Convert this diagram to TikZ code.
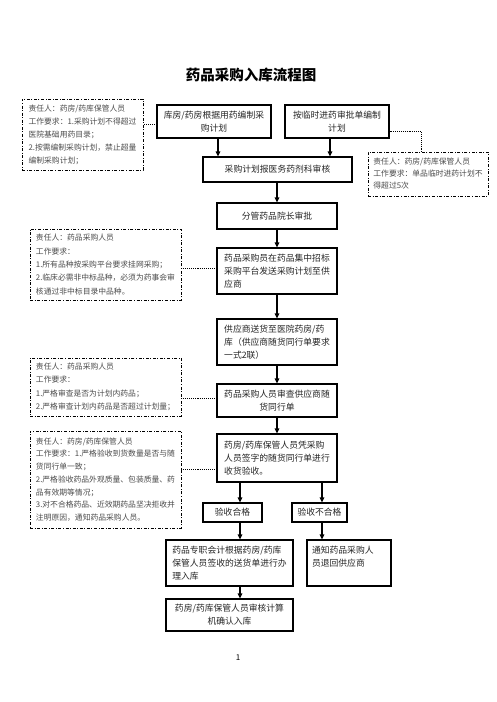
\documentclass[tikz,border=0pt]{standalone}
\usepackage{fontspec}
\setmainfont{Noto Sans CJK SC}
\usetikzlibrary{arrows.meta,calc}
\tikzset{
  mainbox/.style={draw, line width=1.1pt, inner xsep=3pt, inner ysep=1pt, font=\fontsize{8.8}{13}\selectfont, text=black!85},
  notebox/.style={draw, line width=0.9pt, dash pattern=on 3pt off 1.6pt on 0.9pt off 1.6pt, inner sep=1pt, align=left, text=black!70, font=\fontsize{7.8}{13}\selectfont},
  arr/.style={line width=1.4pt, -{Triangle[length=5pt,width=4.5pt]}},
  dotline/.style={line width=0.9pt, densely dotted}
}
\begin{document}
\begin{tikzpicture}[x=1pt,y=-1pt]
\fill[white] (0,0) rectangle (496,702);
\useasboundingbox (0,0) rectangle (496,702);

\node[font=\fontsize{14.5}{16}\selectfont\bfseries] (title) at (251,75) {药品采购入库流程图};

% main column
\node[mainbox, align=center, minimum width=114pt, minimum height=33pt] (A) at (214,121.5) {库房/药房根据用药编制采\\购计划};
\node[mainbox, align=center, minimum width=104pt, minimum height=33pt] (B) at (337,121.5) {按临时进药审批单编制\\计划};
\node[mainbox, align=center, minimum width=149pt, minimum height=25pt] (C) at (277.5,169.5) {采购计划报医务药剂科审核};
\node[mainbox, align=center, minimum width=120pt, minimum height=26pt] (D) at (277,216) {分管药品院长审批};
\node[mainbox, align=left, minimum width=120pt, minimum height=46pt] (E) at (277,271) {药品采购员在药品集中招标\\采购平台发送采购计划至供\\应商};
\node[mainbox, align=left, minimum width=120pt, minimum height=46pt] (F) at (277,342) {供应商送货至医院药房/药\\库（供应商随货同行单要求\\一式2联）};
\node[mainbox, align=center, minimum width=120pt, minimum height=33pt] (G) at (277,400.5) {药品采购人员审查供应商随\\货同行单};
\node[mainbox, align=left, minimum width=120pt, minimum height=48pt] (H) at (277,458) {药房/药库保管人员凭采购\\人员签字的随货同行单进行\\收货验收。};
\node[mainbox, align=center, minimum width=59pt, minimum height=19pt] (ok) at (232.5,512.5) {验收合格};
\node[mainbox, align=center, minimum width=55pt, minimum height=19pt] (ng) at (319.5,512.5) {验收不合格};
\node[mainbox, align=left, minimum width=127pt, minimum height=46pt] (I) at (229.5,563) {药品专职会计根据药房/药库\\保管人员签收的送货单进行办\\理入库};
\node[mainbox, align=left, minimum width=84pt, minimum height=46pt, text width=74pt] (J) at (349,563) {通知药品采购人\\员退回供应商\\\mbox{}};
\node[mainbox, align=center, minimum width=127pt, minimum height=32pt] (K) at (229.5,615) {药房/药库保管人员审核计算\\机确认入库};

% notes
\node[notebox, minimum width=121pt, minimum height=71pt] (L1) at (82.5,134.5) {责任人：药房/药库保管人员\\工作要求：1.采购计划不得超过\\医院基础用药目录；\\2.按需编制采购计划，禁止超量\\编制采购计划；};
\node[notebox, minimum width=120pt, minimum height=44pt, font=\fontsize{7.8}{12}\selectfont] (R1) at (428,174) {责任人：药房/药库保管人员\\工作要求：单品临时进药计划不\\得超过5次};
\node[notebox, minimum width=151pt, minimum height=71pt, font=\fontsize{7.8}{13.3}\selectfont] (L2) at (105.5,264.5) {责任人：药品采购人员\\工作要求：\\1.所有品种按采购平台要求挂网采购；\\2.临床必需非中标品种，必须为药事会审\\核通过非中标目录中品种。};
\node[notebox, minimum width=151pt, minimum height=58pt, font=\fontsize{7.8}{13.5}\selectfont] (L3) at (105.5,387) {责任人：药品采购人员\\工作要求：\\1.严格审查是否为计划内药品；\\2.严格审查计划内药品是否超过计划量；};
\node[notebox, minimum width=151pt, minimum height=97pt, font=\fontsize{7.8}{12.7}\selectfont] (L4) at (105.5,479.5) {责任人：药房/药库保管人员\\工作要求：1.严格验收到货数量是否与随\\货同行单一致；\\2.严格验收药品外观质量、包装质量、药\\品有效期等情况；\\3.对不合格药品、近效期药品坚决拒收并\\注明原因，通知药品采购人员。};

\node[font=\fontsize{8}{10}\selectfont] (pg) at (238,658) {1};

% arrows
\draw[arr] ([xshift=4pt]A.south) -- ([xshift=4pt]A.south |- C.north);
\draw[arr] ([xshift=-7pt]B.south) -- ([xshift=-7pt]B.south |- C.north);
\draw[arr] (D.north |- C.south) -- (D.north);
\draw[arr] (D.south) -- (E.north);
\draw[arr] (E.south) -- (F.north);
\draw[arr] (F.south) -- (G.north);
\draw[arr] (G.south) -- (H.north);
\draw[arr] ([xshift=7.5pt]ok.north |- H.south) -- ([xshift=7.5pt]ok.north);
\draw[arr] ([xshift=2.5pt]ng.north |- H.south) -- ([xshift=2.5pt]ng.north);
\draw[arr] ([xshift=7.5pt]ok.south) -- ([xshift=7.5pt]ok.south |- I.north);
\draw[arr] ([xshift=2.5pt]ng.south) -- ([xshift=2.5pt]ng.south |- J.north);
\draw[arr] ([xshift=10.5pt]I.south) -- ([xshift=10.5pt]I.south |- K.north);

% dotted connectors
\draw[dotline] ([yshift=-2.5pt]A.west) -- ([yshift=-2.5pt]A.west -| L1.east);
\draw[dotline] ([yshift=-10pt]B.east) -| ([xshift=-7pt]R1.north);
\draw[dotline] ([yshift=3pt]E.west) -- ([yshift=3pt]E.west -| L2.east);
\draw[dotline] ([yshift=2.5pt]G.west) -- ([yshift=2.5pt]G.west -| L3.east);
\draw[dotline] ([yshift=-11pt]H.west) -- ([yshift=-11pt]H.west -| L4.east);
\end{tikzpicture}
\end{document}
